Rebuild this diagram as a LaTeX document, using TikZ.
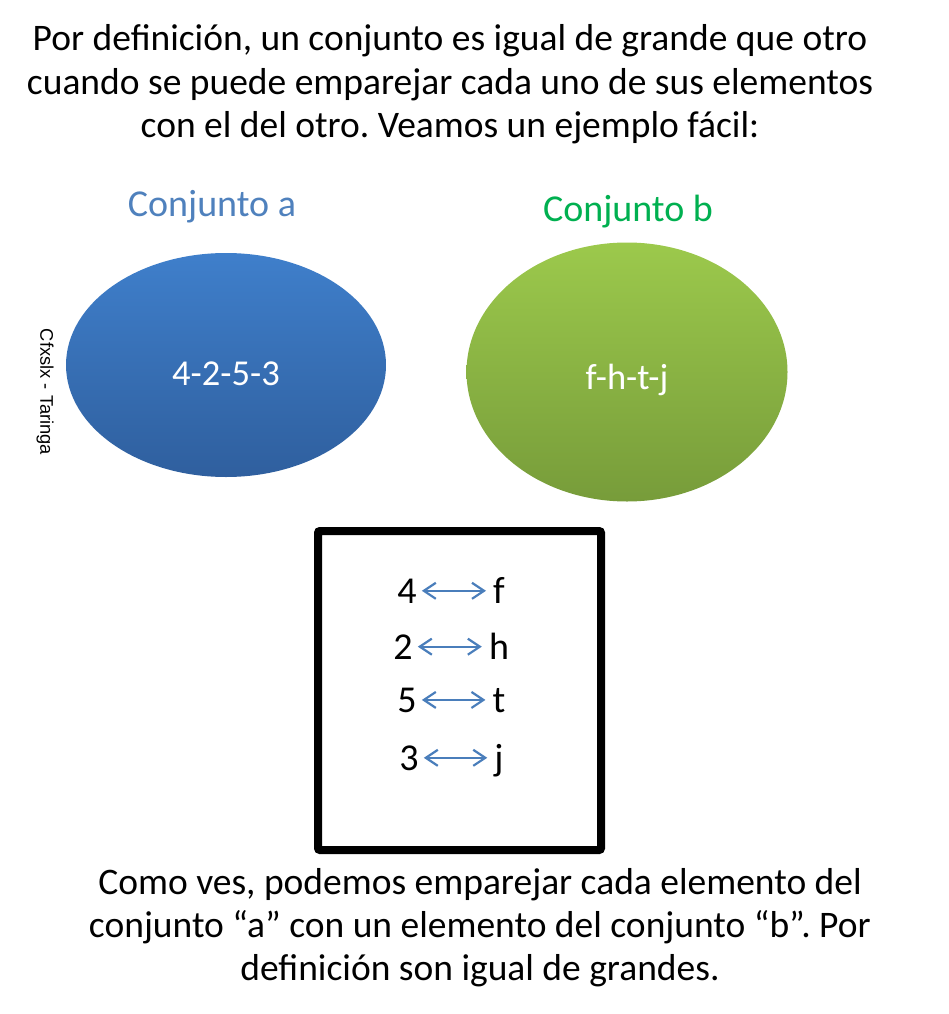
\documentclass[tikz,border=0pt]{standalone}
\usepackage{fontspec}
\setmainfont{Carlito}
\newfontfamily\arialfont{Liberation Sans}
\usetikzlibrary{shapes.geometric,arrows.meta}
\frenchspacing
\definecolor{blueA}{HTML}{4F81BD}
\definecolor{greenB}{HTML}{00B050}
\definecolor{blueTop}{HTML}{3F7FCB}
\definecolor{blueBot}{HTML}{2F5F9E}
\definecolor{greenTop}{HTML}{9CC94C}
\definecolor{greenBot}{HTML}{779C3A}
\definecolor{arrowC}{HTML}{4A7EBB}
\begin{document}
\begin{tikzpicture}[x=1pt,y=-1pt,
  bigtext/.style={font=\fontsize{37.5}{43}\selectfont\frenchspacing, align=center, anchor=base, inner sep=0pt},
  settitle/.style={font=\fontsize{38}{44}\selectfont, anchor=base, inner sep=0pt},
  setshape/.style={ellipse, minimum width=320pt, minimum height=224pt, inner sep=0pt},
  elemtext/.style={font=\fontsize{36.5}{42}\selectfont, text=white, anchor=base, inner sep=0pt},
  pairtext/.style={font=\fontsize{38}{44}\selectfont, anchor=base, inner sep=0pt},
  pairarrow/.style={draw=arrowC, line width=2.2pt, {Straight Barb[length=12pt,width=16pt,line width=2.2pt]}-{Straight Barb[length=12pt,width=16pt,line width=2.2pt]}},
  framebox/.style={draw=black, line width=8pt, rounded corners=2pt}
]
\useasboundingbox (0,0) rectangle (948,1014);
\fill[white] (0,0) rectangle (948,1014);

% title
\node[bigtext] (title) at (450,137) {Por definición, un conjunto es igual de grande que otro\\cuando se puede emparejar cada uno de sus elementos\\con el del otro. Veamos un ejemplo fácil:};

% set labels
\node[settitle, text=blueA] (ta) at (212,216) {Conjunto a};
\node[settitle, text=greenB] (tb) at (628,221) {Conjunto b};

% ellipses
\node[setshape, top color=blueTop, bottom color=blueBot, minimum height=224pt] (ea) at (226,365) {};
\node[setshape, top color=greenTop, bottom color=greenBot, minimum width=321pt, minimum height=259pt] (eb) at (627,372) {};
\node[elemtext] (la) at (226,385) {4-2-5-3};
\node[elemtext] (lb) at (627,389) {f-h-t-j};

% watermark
\node[font=\arialfont\fontsize{18.3}{22}\selectfont, rotate=-90, inner sep=0pt] (wm) at (45,392) {Cfxslx - Taringa};

% box
\node[framebox, minimum width=283pt, minimum height=319pt, inner sep=0pt] (frame) at (459.5,690.5) {};

% pairs
\node[pairtext] (n4) at (407,603) {4};
\node[pairtext] (f4) at (499,603) {f};
\node[pairtext] (n2) at (403,659) {2};
\node[pairtext] (f2) at (499,659) {h};
\node[pairtext] (n5) at (407,712) {5};
\node[pairtext] (f5) at (499,712) {t};
\node[pairtext] (n3) at (409,770) {3};
\node[pairtext] (f3) at (499,770) {j};

\draw[pairarrow, shorten <=5pt, shorten >=7pt] (n4.east) -- (n4.east -| f4.west);
\draw[pairarrow, shorten <=5pt, shorten >=7pt] (n2.east) -- (n2.east -| f2.west);
\draw[pairarrow, shorten <=5pt, shorten >=7pt] (n5.east) -- (n5.east -| f5.west);
\draw[pairarrow, shorten <=5pt, shorten >=7pt] (n3.east) -- (n3.east -| f3.west);

% bottom text
\node[bigtext] (concl) at (480,980) {Como ves, podemos emparejar cada elemento del\\conjunto “a” con un elemento del conjunto “b”. Por\\definición son igual de grandes.};
\end{tikzpicture}
\end{document}
